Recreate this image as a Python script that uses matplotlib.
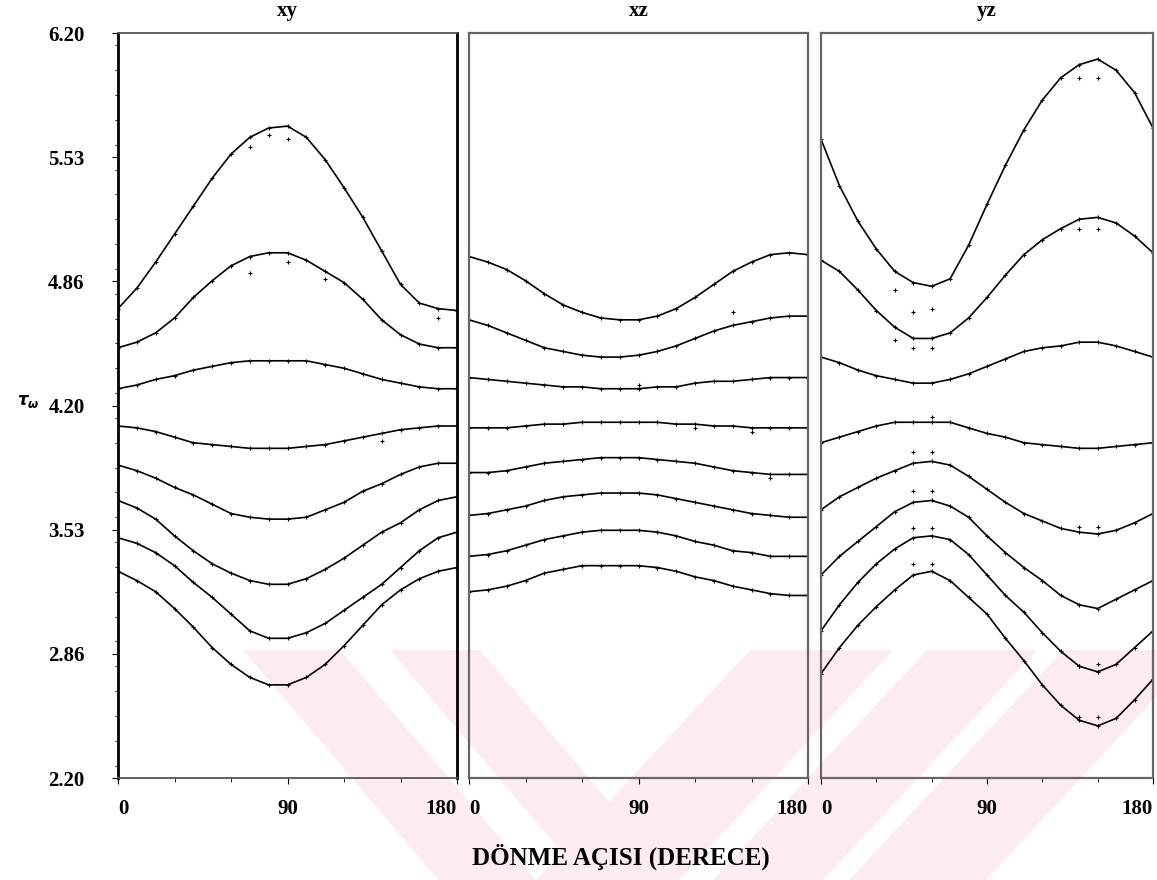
import numpy as np
import matplotlib
matplotlib.use('Agg')
import matplotlib.pyplot as plt
from matplotlib.patches import Polygon
from matplotlib.ticker import MultipleLocator

plt.rcParams['font.family'] = ['Liberation Serif', 'DejaVu Serif']
plt.rcParams['font.weight'] = 'bold'

# rotation angle (degrees), one reading every 10 degrees
angle = np.arange(0, 181, 10)

# xy plane
xy_curves = [
    [4.72, 4.83, 4.97, 5.12, 5.27, 5.42, 5.55, 5.64, 5.69, 5.70, 5.64, 5.52, 5.37, 5.21, 5.03, 4.85, 4.75, 4.72, 4.71],
    [4.51, 4.54, 4.59, 4.67, 4.78, 4.87, 4.95, 5.00, 5.02, 5.02, 4.98, 4.92, 4.86, 4.77, 4.66, 4.58, 4.53, 4.51, 4.51],
    [4.29, 4.31, 4.34, 4.36, 4.39, 4.41, 4.43, 4.44, 4.44, 4.44, 4.44, 4.42, 4.40, 4.37, 4.34, 4.32, 4.30, 4.29, 4.29],
    [4.09, 4.08, 4.06, 4.03, 4.00, 3.99, 3.98, 3.97, 3.97, 3.97, 3.98, 3.99, 4.01, 4.03, 4.05, 4.07, 4.08, 4.09, 4.09],
    [3.88, 3.85, 3.81, 3.76, 3.72, 3.67, 3.62, 3.60, 3.59, 3.59, 3.60, 3.64, 3.68, 3.74, 3.78, 3.83, 3.87, 3.89, 3.89],
    [3.69, 3.65, 3.59, 3.50, 3.42, 3.35, 3.30, 3.26, 3.24, 3.24, 3.27, 3.32, 3.38, 3.45, 3.52, 3.57, 3.64, 3.69, 3.71],
    [3.49, 3.46, 3.41, 3.34, 3.25, 3.17, 3.08, 2.99, 2.95, 2.95, 2.98, 3.03, 3.10, 3.17, 3.24, 3.33, 3.42, 3.49, 3.52],
    [3.31, 3.26, 3.20, 3.11, 3.01, 2.90, 2.81, 2.74, 2.70, 2.70, 2.74, 2.81, 2.91, 3.02, 3.13, 3.21, 3.27, 3.31, 3.33],
]

# xz plane
xz_curves = [
    [5.00, 4.97, 4.93, 4.87, 4.80, 4.74, 4.70, 4.67, 4.66, 4.66, 4.68, 4.72, 4.78, 4.85, 4.92, 4.97, 5.01, 5.02, 5.01],
    [4.66, 4.63, 4.59, 4.55, 4.51, 4.49, 4.47, 4.46, 4.46, 4.47, 4.49, 4.52, 4.56, 4.60, 4.63, 4.65, 4.67, 4.68, 4.68],
    [4.35, 4.34, 4.33, 4.32, 4.31, 4.30, 4.30, 4.29, 4.29, 4.29, 4.30, 4.30, 4.32, 4.33, 4.33, 4.34, 4.35, 4.35, 4.35],
    [4.08, 4.08, 4.08, 4.09, 4.10, 4.10, 4.11, 4.11, 4.11, 4.11, 4.11, 4.10, 4.10, 4.09, 4.09, 4.08, 4.08, 4.08, 4.08],
    [3.84, 3.84, 3.85, 3.87, 3.89, 3.90, 3.91, 3.92, 3.92, 3.92, 3.91, 3.90, 3.89, 3.87, 3.85, 3.84, 3.83, 3.83, 3.83],
    [3.61, 3.62, 3.64, 3.66, 3.69, 3.71, 3.72, 3.73, 3.73, 3.73, 3.72, 3.70, 3.68, 3.66, 3.64, 3.62, 3.61, 3.60, 3.60],
    [3.39, 3.40, 3.42, 3.45, 3.48, 3.50, 3.52, 3.53, 3.53, 3.53, 3.52, 3.50, 3.47, 3.45, 3.42, 3.41, 3.39, 3.39, 3.39],
    [3.20, 3.21, 3.23, 3.26, 3.30, 3.32, 3.34, 3.34, 3.34, 3.34, 3.33, 3.31, 3.28, 3.26, 3.23, 3.21, 3.19, 3.18, 3.18],
]

# yz plane
yz_curves = [
    [5.63, 5.38, 5.19, 5.04, 4.92, 4.86, 4.84, 4.88, 5.06, 5.28, 5.49, 5.68, 5.84, 5.96, 6.03, 6.06, 6.00, 5.88, 5.69],
    [4.98, 4.92, 4.82, 4.71, 4.62, 4.56, 4.56, 4.59, 4.67, 4.78, 4.90, 5.01, 5.09, 5.15, 5.20, 5.21, 5.18, 5.11, 5.02],
    [4.46, 4.43, 4.39, 4.36, 4.34, 4.32, 4.32, 4.34, 4.37, 4.41, 4.45, 4.49, 4.51, 4.52, 4.54, 4.54, 4.52, 4.49, 4.46],
    [4.00, 4.03, 4.06, 4.09, 4.11, 4.11, 4.11, 4.11, 4.08, 4.05, 4.03, 4.00, 3.99, 3.98, 3.97, 3.97, 3.98, 3.99, 4.00],
    [3.64, 3.71, 3.76, 3.81, 3.85, 3.89, 3.90, 3.88, 3.82, 3.75, 3.68, 3.62, 3.58, 3.54, 3.52, 3.51, 3.53, 3.57, 3.62],
    [3.29, 3.39, 3.47, 3.55, 3.63, 3.68, 3.69, 3.66, 3.60, 3.50, 3.41, 3.33, 3.26, 3.18, 3.13, 3.11, 3.16, 3.21, 3.26],
    [2.99, 3.13, 3.25, 3.35, 3.43, 3.49, 3.50, 3.48, 3.40, 3.29, 3.18, 3.09, 2.98, 2.88, 2.80, 2.77, 2.81, 2.90, 2.99],
    [2.76, 2.90, 3.02, 3.12, 3.21, 3.29, 3.31, 3.26, 3.17, 3.08, 2.95, 2.83, 2.70, 2.59, 2.51, 2.48, 2.52, 2.62, 2.73],
]

# measured points that sit off the fitted curves
xy_off_angle = [70, 80, 90, 70, 90, 110, 170, 140]
xy_off_value = [5.59, 5.65, 5.63, 4.91, 4.97, 4.88, 4.67, 4.01]
xz_off_angle = [140, 90, 120, 150, 160]
xz_off_value = [4.70, 4.31, 4.08, 4.06, 3.81]
yz_off_angle = [40, 50, 60, 140, 150, 40, 50, 60, 140, 150, 60, 50, 60, 140, 150,
                50, 60, 50, 60, 140, 150, 50, 60, 140, 150]
yz_off_value = [4.82, 4.70, 4.72, 5.96, 5.96, 4.55, 4.51, 4.51, 5.15, 5.15, 4.14, 3.95, 3.95, 3.55, 3.55,
                3.74, 3.74, 3.54, 3.54, 2.80, 2.81, 3.35, 3.35, 2.53, 2.53]

panel_titles = ['xy', 'xz', 'yz']
y_ticks = [2.20, 2.8667, 3.5333, 4.20, 4.8667, 5.5333, 6.20]
y_ticklabels = ['2.20', '2.86', '3.53', '4.20', '4.86', '5.53', '6.20']
x_ticks = [0, 90, 180]
x_ticklabels = ['0', '90', '180']

W, H = 1157, 880
fig = plt.figure(figsize=(W / 100, H / 100), dpi=100)

# faint pink watermark in the background
def band(x0, x1, slope, y0=650, y1=880):
    dy = y1 - y0
    pts = [(x0, y0), (x1, y0), (x1 + slope * dy, y1), (x0 + slope * dy, y1)]
    return [(px / W, 1 - py / H) for px, py in pts]

for x0, x1, s in [(243, 340, 0.85), (390, 480, 0.85), (750, 893, -0.93),
                  (927, 1037, -0.93), (1063, 1200, -0.93)]:
    fig.add_artist(Polygon(band(x0, x1, s), closed=True, facecolor='#fdecef',
                           edgecolor='none', transform=fig.transFigure, zorder=-5))

lefts = [118, 469, 821]
widths = [339, 339, 332]
bottom, top = 778, 33

all_curves = [xy_curves, xz_curves, yz_curves]
all_off = [(xy_off_angle, xy_off_value), (xz_off_angle, xz_off_value), (yz_off_angle, yz_off_value)]

for i in range(3):
    ax = fig.add_axes([lefts[i] / W, 1 - bottom / H, widths[i] / W, (bottom - top) / H])
    ax.patch.set_alpha(0)
    for vals in all_curves[i]:
        ax.plot(angle, vals, color='k', lw=1.2)
        ax.plot(angle, vals, ls='none', marker='+', ms=3.5, mew=0.8, color='k')
    ax.plot(all_off[i][0], all_off[i][1], ls='none', marker='+', ms=3.5, mew=0.8, color='k')

    ax.set_xlim(0, 180)
    ax.set_ylim(2.2, 6.2)
    ax.set_xticks(x_ticks)
    ax.set_xticklabels(x_ticklabels, fontsize=15, fontweight='bold')
    labs = ax.get_xticklabels()
    labs[0].set_horizontalalignment('left')
    labs[-1].set_horizontalalignment('right')
    ax.xaxis.set_minor_locator(MultipleLocator(30))
    ax.tick_params(axis='x', which='major', direction='out', length=4, pad=11)
    ax.tick_params(axis='x', which='minor', direction='out', length=3)
    ax.set_title(panel_titles[i], fontsize=15, fontweight='bold', pad=12)

    if i == 0:
        ax.set_yticks(y_ticks)
        ax.set_yticklabels(y_ticklabels, fontsize=15, fontweight='bold')
        ax.yaxis.set_minor_locator(MultipleLocator(4 / 30))
        ax.tick_params(axis='y', which='major', direction='out', length=4, pad=20)
        ax.tick_params(axis='y', which='minor', direction='out', length=2)
        ax.spines['left'].set_linewidth(2.0)
        ax.spines['right'].set_linewidth(2.0)
        for s in ['top', 'bottom']:
            ax.spines[s].set_color('#555555')
            ax.spines[s].set_linewidth(1.3)
    else:
        ax.set_yticks([])
        for s in ax.spines.values():
            s.set_color('#666666')
            s.set_linewidth(1.6)

fig.text(28 / W, 1 - 402 / H, r'$\tau_{\omega}$', fontsize=12, ha='center', va='center')
fig.text(621 / W, 1 - 857 / H, 'DÖNME AÇISI (DERECE)', fontsize=18, fontweight='bold',
         ha='center', va='center')

fig.savefig('out.png', dpi=100)
